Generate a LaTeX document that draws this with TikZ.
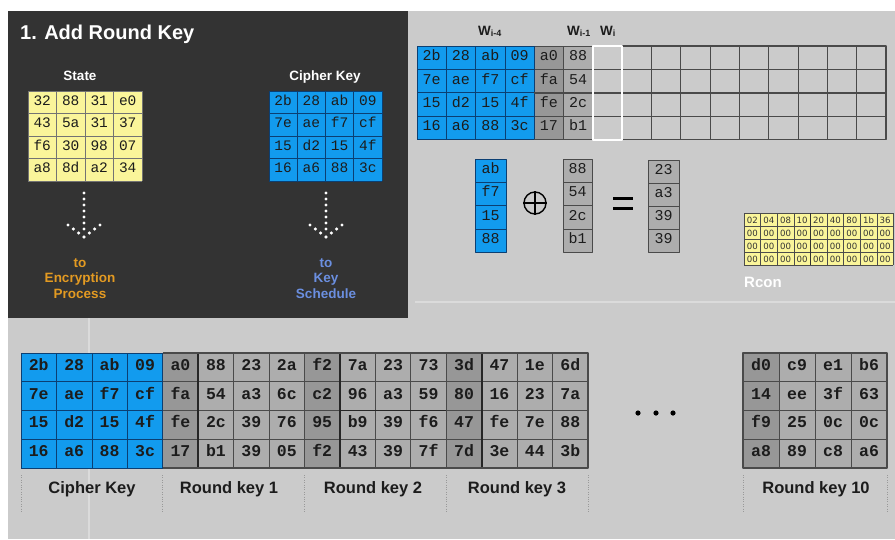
\documentclass[tikz,border=0pt]{standalone}
\usepackage{fontspec}
\setmainfont{Liberation Sans}
\newfontfamily\hexfont{Liberation Mono}
\newfontfamily\rconfont{DejaVu Sans}

\definecolor{screen}{HTML}{CBCBCB}
\definecolor{panel}{HTML}{333333}
\definecolor{keyblue}{HTML}{129BEE}
\definecolor{keyline}{HTML}{0B3F73}
\definecolor{stateyellow}{HTML}{FAF59A}
\definecolor{rkdark}{HTML}{979797}
\definecolor{rklight}{HTML}{ADADAD}
\definecolor{gridgray}{HTML}{4A4A4A}
\definecolor{encorange}{HTML}{E39A22}
\definecolor{ksblue}{HTML}{6B8FE0}
\definecolor{inkdark}{HTML}{1C1C1C}

\tikzset{
  hexlabel/.style={font=\hexfont\fontsize{#1}{#1}\selectfont, text=inkdark,
    inner sep=0pt, text height=0.58em, text depth=0pt},
  hexlabel/.default=15,
  hexbold/.style={hexlabel=#1, font=\hexfont\bfseries\fontsize{#1}{#1}\selectfont},
  rconlabel/.style={font=\rconfont\fontsize{8.6}{9}\selectfont, text=black!80,
    inner sep=0pt, text height=0.72em, text depth=0pt},
  caption/.style={font=\bfseries\fontsize{16.5}{18}\selectfont, text=inkdark, inner sep=0pt},
  panellabel/.style={font=\bfseries\fontsize{13.5}{16}\selectfont, text=white, inner sep=0pt},
  wordlabel/.style={font=\bfseries\fontsize{13.5}{15}\selectfont, text=inkdark, inner sep=0pt},
  keysep/.style={gray!80, line width=0.9pt, dash pattern=on 0.9pt off 1.5pt},
}
\newcommand{\wsub}[1]{\raisebox{-1.6pt}{\fontsize{9}{9}\selectfont #1}}
% dotted down arrow, tip at (#1,237)
\newcommand{\dotarrow}[1]{%
  \foreach \t in {193,199,...,229} \fill[white] (#1,\t) circle (1.7pt);
  \foreach \s in {0,1,2,3} {
    \fill[white] (#1-16+\s*5.33,225+\s*4) circle (1.7pt);
    \fill[white] (#1+16-\s*5.33,225+\s*4) circle (1.7pt);
  }}

\begin{document}
\begin{tikzpicture}[x=1pt,y=-1pt,line join=round]
  \useasboundingbox (0,0) rectangle (895,539);
  \fill[white] (0,0) rectangle (895,539);
  \fill[screen] (8,11) rectangle (895,539);
  \draw[white!30!screen, line width=1.5pt] (89,318) -- (89,539);
  \draw[white!30!screen, line width=1.2pt] (415,302) -- (895,302);

  % dark panel
  \fill[panel] (8,11) rectangle (408,318);
  \node[anchor=base west, inner sep=0pt, text=white, font=\bfseries\fontsize{20}{24}\selectfont] (title) at (20,39) {1. Add Round Key};
  \node[panellabel, anchor=base] (statelbl) at (80,80) {State};
  \node[panellabel, anchor=base] (cipherlbl) at (325,80) {Cipher Key};

  % state
  \begin{scope}[shift={(28,91)}]
    \fill[stateyellow] (0,0) rectangle (114,90);
    \foreach \k in {0,...,4} {
      \draw[black!55, line width=0.6pt] (\k*28.5,0) -- (\k*28.5,90);
      \draw[black!55, line width=0.6pt] (0,\k*22.5) -- (114,\k*22.5);
    }
    \foreach \row [count=\r from 0] in {{32,88,31,e0},{43,5a,31,37},{f6,30,98,07},{a8,8d,a2,34}}
      \foreach \v [count=\c from 0] in \row
        \node[hexlabel=14.5] (st-\r-\c) at (\c*28.5+14.25,\r*22.5+11.25) {\v};
  \end{scope}

  % cipher key
  \begin{scope}[shift={(269,91)}]
    \fill[keyblue] (0,0) rectangle (113,90);
    \foreach \k in {0,...,4} {
      \draw[keyline, line width=0.6pt] (\k*28.25,0) -- (\k*28.25,90);
      \draw[keyline, line width=0.6pt] (0,\k*22.5) -- (113,\k*22.5);
    }
    \foreach \row [count=\r from 0] in {{2b,28,ab,09},{7e,ae,f7,cf},{15,d2,15,4f},{16,a6,88,3c}}
      \foreach \v [count=\c from 0] in \row
        \node[hexlabel=14.5] (ck-\r-\c) at (\c*28.25+14.1,\r*22.5+11.25) {\v};
  \end{scope}

  % dotted arrows
  \dotarrow{84}
  \dotarrow{326}
  \node[align=center, anchor=north, inner sep=0pt, text=encorange, font=\bfseries\fontsize{13.5}{15.5}\selectfont] (encproc) at (80,258) {to\\Encryption\\Process};
  \node[align=center, anchor=north, inner sep=0pt, text=ksblue, font=\bfseries\fontsize{13.5}{15.5}\selectfont] (keysched) at (326,258) {to\\Key\\Schedule};

  % words w[i]
  \node[wordlabel, anchor=base west] (wim4) at (478,35) {W\wsub{i-4}};
  \node[wordlabel, anchor=base west] (wim1) at (567,35) {W\wsub{i-1}};
  \node[wordlabel, anchor=base west] (wi) at (600,35) {W\wsub{i}};
  \begin{scope}[shift={(417,46)}]
    \fill[keyblue] (0,0) rectangle (117.2,93.6);
    \fill[rkdark] (117.2,0) rectangle (146.5,93.6);
    \fill[rklight] (146.5,0) rectangle (175.8,93.6);
    \foreach \k in {0,...,4} {
      \draw[keyline, line width=0.7pt] (\k*29.3,0) -- (\k*29.3,93.6);
      \draw[keyline, line width=0.7pt] (0,\k*23.4) -- (117.2,\k*23.4);
      \draw[gridgray, line width=0.8pt] (117.2,\k*23.4) -- (468.8,\k*23.4);
    }
    \foreach \k in {5,...,16}
      \draw[gridgray, line width=0.8pt] (\k*29.3,0) -- (\k*29.3,93.6);
    \draw[gridgray, line width=1.4pt] (117.2,46.8) -- (468.8,46.8);
    \draw[gridgray, line width=1.4pt] (175.8,0) -- (468.8,0) -- (468.8,93.6) -- (175.8,93.6);
    \draw[white, line width=1.8pt] (175.8,0) rectangle (205.1,93.6);
    \foreach \row [count=\r from 0] in {{2b,28,ab,09,a0,88},{7e,ae,f7,cf,fa,54},{15,d2,15,4f,fe,2c},{16,a6,88,3c,17,b1}}
      \foreach \v [count=\c from 0] in \row
        \node[hexlabel=15] (w-\r-\c) at (\c*29.3+14.65,\r*23.4+11.7) {\v};
  \end{scope}

  % xor of two words
  \begin{scope}[shift={(475,159)}]
    \fill[keyblue] (0,0) rectangle (31,93.2);
    \draw[keyline, line width=0.8pt] (0,0) rectangle (31,93.2);
    \foreach \k in {1,2,3} \draw[keyline, line width=0.8pt] (0,\k*23.3) -- (31,\k*23.3);
    \foreach \v [count=\r from 0] in {ab,f7,15,88}
      \node[hexlabel=15] (va-\r) at (15.5,\r*23.3+11.65) {\v};
  \end{scope}
  \node[draw, circle, line width=1.4pt, minimum size=22pt, inner sep=0pt] (xorop) at (535,203) {};
  \draw[line width=1.4pt] (xorop.north) -- (xorop.south) (xorop.west) -- (xorop.east);
  \begin{scope}[shift={(563,159)}]
    \fill[rklight] (0,0) rectangle (29,93.2);
    \draw[gridgray, line width=0.8pt] (0,0) rectangle (29,93.2);
    \foreach \k in {1,2,3} \draw[gridgray, line width=0.8pt] (0,\k*23.3) -- (29,\k*23.3);
    \foreach \v [count=\r from 0] in {88,54,2c,b1}
      \node[hexlabel=15] (vb-\r) at (14.5,\r*23.3+11.65) {\v};
  \end{scope}
  \draw[line width=3pt] (613,198) -- (633,198) (613,208) -- (633,208);
  \begin{scope}[shift={(648,160)}]
    \fill[rklight] (0,0) rectangle (31,92.4);
    \draw[gridgray, line width=0.8pt] (0,0) rectangle (31,92.4);
    \foreach \k in {1,2,3} \draw[gridgray, line width=0.8pt] (0,\k*23.1) -- (31,\k*23.1);
    \foreach \v [count=\r from 0] in {23,a3,39,39}
      \node[hexlabel=15] (vc-\r) at (15.5,\r*23.1+11.55) {\v};
  \end{scope}

  % Rcon
  \begin{scope}[shift={(744,213)}]
    \fill[stateyellow] (0,0) rectangle (149.4,52);
    \foreach \k in {0,...,9} \draw[black!70, line width=0.6pt] (\k*16.6,0) -- (\k*16.6,52);
    \foreach \k in {0,...,4} \draw[black!70, line width=0.6pt] (0,\k*13) -- (149.4,\k*13);
    \draw[black!80, line width=1.2pt] (66.4,0) -- (66.4,52);
    \foreach \row [count=\r from 0] in {{02,04,08,10,20,40,80,1b,36},{00,00,00,00,00,00,00,00,00},{00,00,00,00,00,00,00,00,00},{00,00,00,00,00,00,00,00,00}}
      \foreach \v [count=\c from 0] in \row
        \node[rconlabel] (rc-\r-\c) at (\c*16.6+8.3,\r*13+6.5) {\v};
  \end{scope}
  \node[anchor=base west, inner sep=0pt, text=white, font=\bfseries\fontsize{15}{18}\selectfont] (rconlbl) at (744,287) {Rcon};

  % key expansion: cipher key and round keys
  \begin{scope}[shift={(21,353)}]
    \fill[keyblue] (0,0) rectangle (141.8,115);
    \fill[rklight] (141.8,0) rectangle (567,115);
    \foreach \k in {4,8,12} \fill[rkdark] (\k*35.44,0) rectangle ++(35.44,115);
    \foreach \k in {0,...,4} {
      \draw[keyline, line width=0.7pt] (\k*35.44,0) -- (\k*35.44,115);
      \draw[keyline, line width=0.7pt] (0,\k*28.75) -- (141.8,\k*28.75);
      \draw[gridgray, line width=0.8pt] (141.8,\k*28.75) -- (567,\k*28.75);
    }
    \foreach \k in {5,...,16} \draw[gridgray, line width=0.8pt] (\k*35.44,0) -- (\k*35.44,115);
    \foreach \k in {5,9,13} \draw[black!85, line width=1.6pt] (\k*35.44,0) -- (\k*35.44,115);
    \draw[black!85, line width=1.6pt] (318.96,57.5) -- (425.3,57.5);
    \draw[gridgray, line width=1.4pt] (141.8,0) -- (567,0) -- (567,115) -- (141.8,115);
    \foreach \row [count=\r from 0] in {
        {2b,28,ab,09,a0,88,23,2a,f2,7a,23,73,3d,47,1e,6d},
        {7e,ae,f7,cf,fa,54,a3,6c,c2,96,a3,59,80,16,23,7a},
        {15,d2,15,4f,fe,2c,39,76,95,b9,39,f6,47,fe,7e,88},
        {16,a6,88,3c,17,b1,39,05,f2,43,39,7f,7d,3e,44,3b}}
      \foreach \v [count=\c from 0] in \row
        \node[hexbold=16.5] (rk-\r-\c) at (\c*35.44+17.72,\r*28.75+14.4) {\v};
  \end{scope}
  \fill (638,413) circle (2.6pt) (656,413) circle (2.6pt) (673,413) circle (2.6pt);
  \begin{scope}[shift={(743,353)}]
    \fill[rklight] (0,0) rectangle (144,115);
    \fill[rkdark] (0,0) rectangle (36,115);
    \foreach \k in {0,...,4} {
      \draw[gridgray, line width=0.8pt] (\k*36,0) -- (\k*36,115);
      \draw[gridgray, line width=0.8pt] (0,\k*28.75) -- (144,\k*28.75);
    }
    \draw[gridgray, line width=1.4pt] (0,0) rectangle (144,115);
    \foreach \row [count=\r from 0] in {{d0,c9,e1,b6},{14,ee,3f,63},{f9,25,0c,0c},{a8,89,c8,a6}}
      \foreach \v [count=\c from 0] in \row
        \node[hexbold=16.5] (rt-\r-\c) at (\c*36+18,\r*28.75+14.4) {\v};
  \end{scope}

  % captions under the keys
  \foreach \x in {21,162.8,304.5,446.3,588,743,887}
    \draw[keysep] (\x,475) -- (\x,513);
  \node[caption, anchor=base] (ckcap) at (92,493) {Cipher Key};
  \node[caption, anchor=base] (rk1cap) at (229,493) {Round key 1};
  \node[caption, anchor=base] (rk2cap) at (373,493) {Round key 2};
  \node[caption, anchor=base] (rk3cap) at (517,493) {Round key 3};
  \node[caption, anchor=base] (rk10cap) at (816,493) {Round key 10};
\end{tikzpicture}
\end{document}
